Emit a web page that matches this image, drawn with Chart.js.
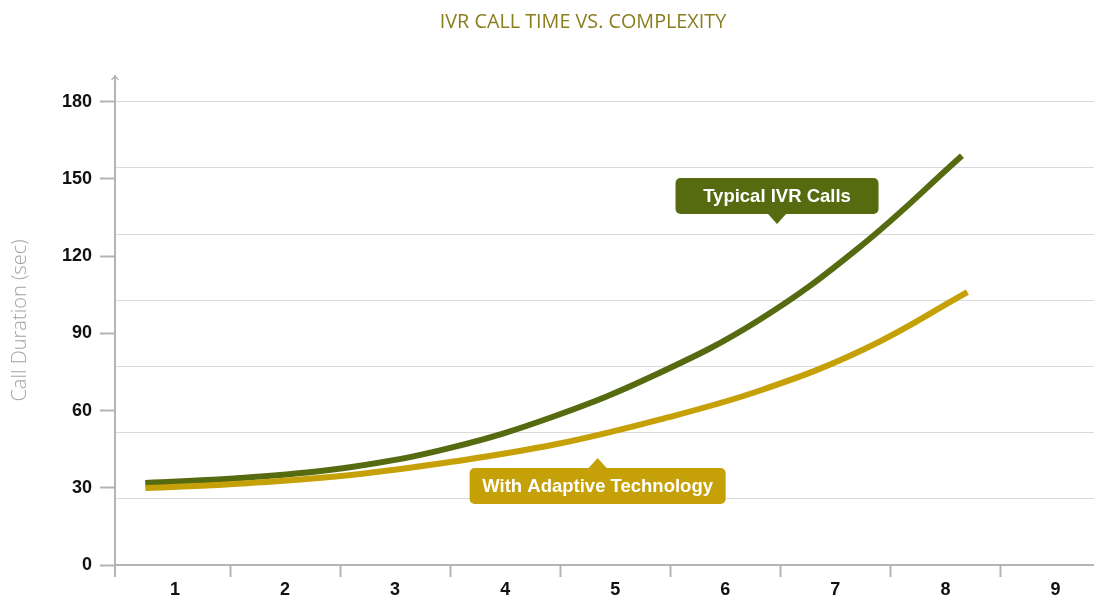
<!DOCTYPE html>
<html>
<head>
<meta charset="utf-8">
<script src="https://cdn.jsdelivr.net/npm/chart.js@4/dist/chart.umd.min.js"></script>
<style>
  html, body { margin: 0; padding: 0; background: #fff; }
  #wrap { width: 1094px; height: 598px; position: relative; }
</style>
</head>
<body>
<div id="wrap"><canvas id="grafico"></canvas></div>
<script>
// datos
var complejidad = [0.73, 1.66, 2.59, 3.51, 4.44, 5.37, 6.30, 7.22, 8.15];
var llamadasTipicas = [31.9, 34.0, 38.0, 45.6, 57.7, 74.0, 95.0, 123.5, 159];
var complejidadAdapt = [0.73, 1.66, 2.60, 3.53, 4.47, 5.40, 6.33, 7.27, 8.2];
var conTecnologia = [29.9, 31.8, 35.0, 40.2, 47.0, 56.5, 68.0, 84.0, 106];
var etiquetasX = [1, 2, 3, 4, 5, 6, 7, 8, 9];
var etiquetasY = [0, 30, 60, 90, 120, 150, 180];
var lineasGuia = [180 / 7, 360 / 7, 540 / 7, 720 / 7, 900 / 7, 1080 / 7, 180];
var titulo = 'IVR CALL TIME VS. COMPLEXITY';

var verde = '#566a10';
var amarillo = '#c5a107';
var gris = '#b4b4b4';

function puntos(xs, ys) {
    return xs.map(function (x, i) { return { x: x, y: ys[i] }; });
}

function esEtiqueta(v) {
    return etiquetasY.some(function (e) { return Math.abs(e - v) < 0.01; });
}
function esGuia(v) {
    return lineasGuia.some(function (g) { return Math.abs(g - v) < 0.01; });
}

// notas (cajas con flecha)
var notas = [
    { texto: 'Typical IVR Calls', x: 6.47, y: 143.4, ancho: 203, color: verde, flecha: 'abajo' },
    { texto: 'With Adaptive Technology', x: 4.84, y: 30.7, ancho: 256, color: amarillo, flecha: 'arriba' }
];

var extras = {
    id: 'extras',
    afterDatasetsDraw: function (chart) {
        var ctx = chart.ctx;
        var area = chart.chartArea;
        var sx = chart.scales.x, sy = chart.scales.y;
        ctx.save();
        // titulo (centrado un poco a la derecha, como en el original)
        ctx.fillStyle = '#8a7d1e';
        ctx.font = '400 19.8px "Open Sans", sans-serif';
        ctx.textAlign = 'center';
        ctx.textBaseline = 'middle';
        ctx.fillText(titulo, 583, 22);

        // flecha del eje y y prolongacion hacia abajo
        ctx.strokeStyle = gris;
        ctx.lineWidth = 2;
        ctx.beginPath();
        ctx.moveTo(area.left, area.bottom);
        ctx.lineTo(area.left, area.bottom + 12);
        ctx.stroke();
        ctx.lineWidth = 1.2;
        ctx.beginPath();
        ctx.moveTo(area.left - 3.5, area.top + 4);
        ctx.lineTo(area.left, area.top);
        ctx.lineTo(area.left + 3.5, area.top + 4);
        ctx.stroke();

        notas.forEach(function (n) {
            var cx = sx.getPixelForValue(n.x);
            var cy = sy.getPixelForValue(n.y);
            var w = n.ancho, h = 36;
            var x0 = cx - w / 2, y0 = cy - h / 2;
            ctx.fillStyle = n.color;
            ctx.beginPath();
            ctx.roundRect(x0, y0, w, h, 5);
            ctx.fill();
            ctx.beginPath();
            if (n.flecha === 'abajo') {
                ctx.moveTo(cx - 9, y0 + h);
                ctx.lineTo(cx, y0 + h + 10);
                ctx.lineTo(cx + 9, y0 + h);
            } else {
                ctx.moveTo(cx - 9, y0);
                ctx.lineTo(cx, y0 - 10);
                ctx.lineTo(cx + 9, y0);
            }
            ctx.fill();
            ctx.fillStyle = '#fff';
            ctx.font = 'bold 18.5px "Liberation Sans", Arial, sans-serif';
            ctx.textAlign = 'center';
            ctx.textBaseline = 'middle';
            ctx.fillText(n.texto, cx, cy + 1);
        });
        ctx.restore();
    }
};

new Chart(document.getElementById('grafico'), {
    type: 'line',
    data: {
        datasets: [{
            label: 'With Adaptive Technology',
            data: puntos(complejidadAdapt, conTecnologia),
            borderColor: amarillo,
            borderWidth: 6,
            borderCapStyle: 'butt',
            pointRadius: 0,
            tension: 0.4,
            order: 0
        }, {
            label: 'Typical IVR Calls',
            data: puntos(complejidad, llamadasTipicas),
            borderColor: verde,
            borderWidth: 6,
            borderCapStyle: 'butt',
            pointRadius: 0,
            tension: 0.4,
            order: 1
        }]
    },
    options: {
        responsive: true,
        maintainAspectRatio: false,
        animation: false,
        layout: { padding: { top: 76, left: 0, right: 0, bottom: 0 } },
        plugins: {
            legend: { display: false },
            tooltip: { enabled: false },
            title: { display: false }
        },
        scales: {
            x: {
                type: 'linear',
                min: 0.455,
                max: 9.35,
                afterBuildTicks: function (scale) {
                    var t = [];
                    etiquetasX.forEach(function (v) {
                        t.push({ value: v });
                        if (v < 9) t.push({ value: v + 0.5 });
                    });
                    scale.ticks = t;
                },
                afterFit: function (scale) { scale.height = 33; },
                border: { color: gris, width: 2 },
                grid: {
                    drawOnChartArea: false,
                    tickLength: 12,
                    tickWidth: 2,
                    tickColor: function (c) {
                        return Number.isInteger(c.tick.value) ? 'rgba(0,0,0,0)' : gris;
                    }
                },
                ticks: {
                    autoSkip: false,
                    maxRotation: 0,
                    padding: 2,
                    color: '#111',
                    font: { family: '"Liberation Sans", Arial, sans-serif', size: 18, weight: 'bold' },
                    callback: function (v) { return Number.isInteger(v) ? String(v) : ''; }
                }
            },
            y: {
                type: 'linear',
                min: 0,
                max: 190,
                afterBuildTicks: function (scale) {
                    var vals = etiquetasY.concat(lineasGuia.filter(function (g) { return !esEtiqueta(g); }));
                    vals.sort(function (a, b) { return a - b; });
                    scale.ticks = vals.map(function (v) { return { value: v }; });
                },
                afterFit: function (scale) { scale.width = 115; },
                border: { color: gris, width: 2 },
                grid: {
                    tickLength: 15,
                    tickWidth: 2,
                    lineWidth: 1,
                    color: function (c) { return esGuia(c.tick.value) ? '#dadada' : 'rgba(0,0,0,0)'; },
                    tickColor: function (c) { return esEtiqueta(c.tick.value) ? gris : 'rgba(0,0,0,0)'; }
                },
                ticks: {
                    autoSkip: false,
                    padding: 8,
                    color: '#111',
                    font: { family: '"Liberation Sans", Arial, sans-serif', size: 18, weight: 'bold' },
                    callback: function (v) { return esEtiqueta(v) ? String(Math.round(v)) : ''; }
                },
                title: {
                    display: true,
                    text: 'Call Duration (sec)',
                    color: '#a3a3a3',
                    font: { family: '"Open Sans", sans-serif', size: 20, weight: '300' },
                    padding: { top: 8, bottom: 0 }
                }
            }
        }
    },
    plugins: [extras]
});
</script>
</body>
</html>
